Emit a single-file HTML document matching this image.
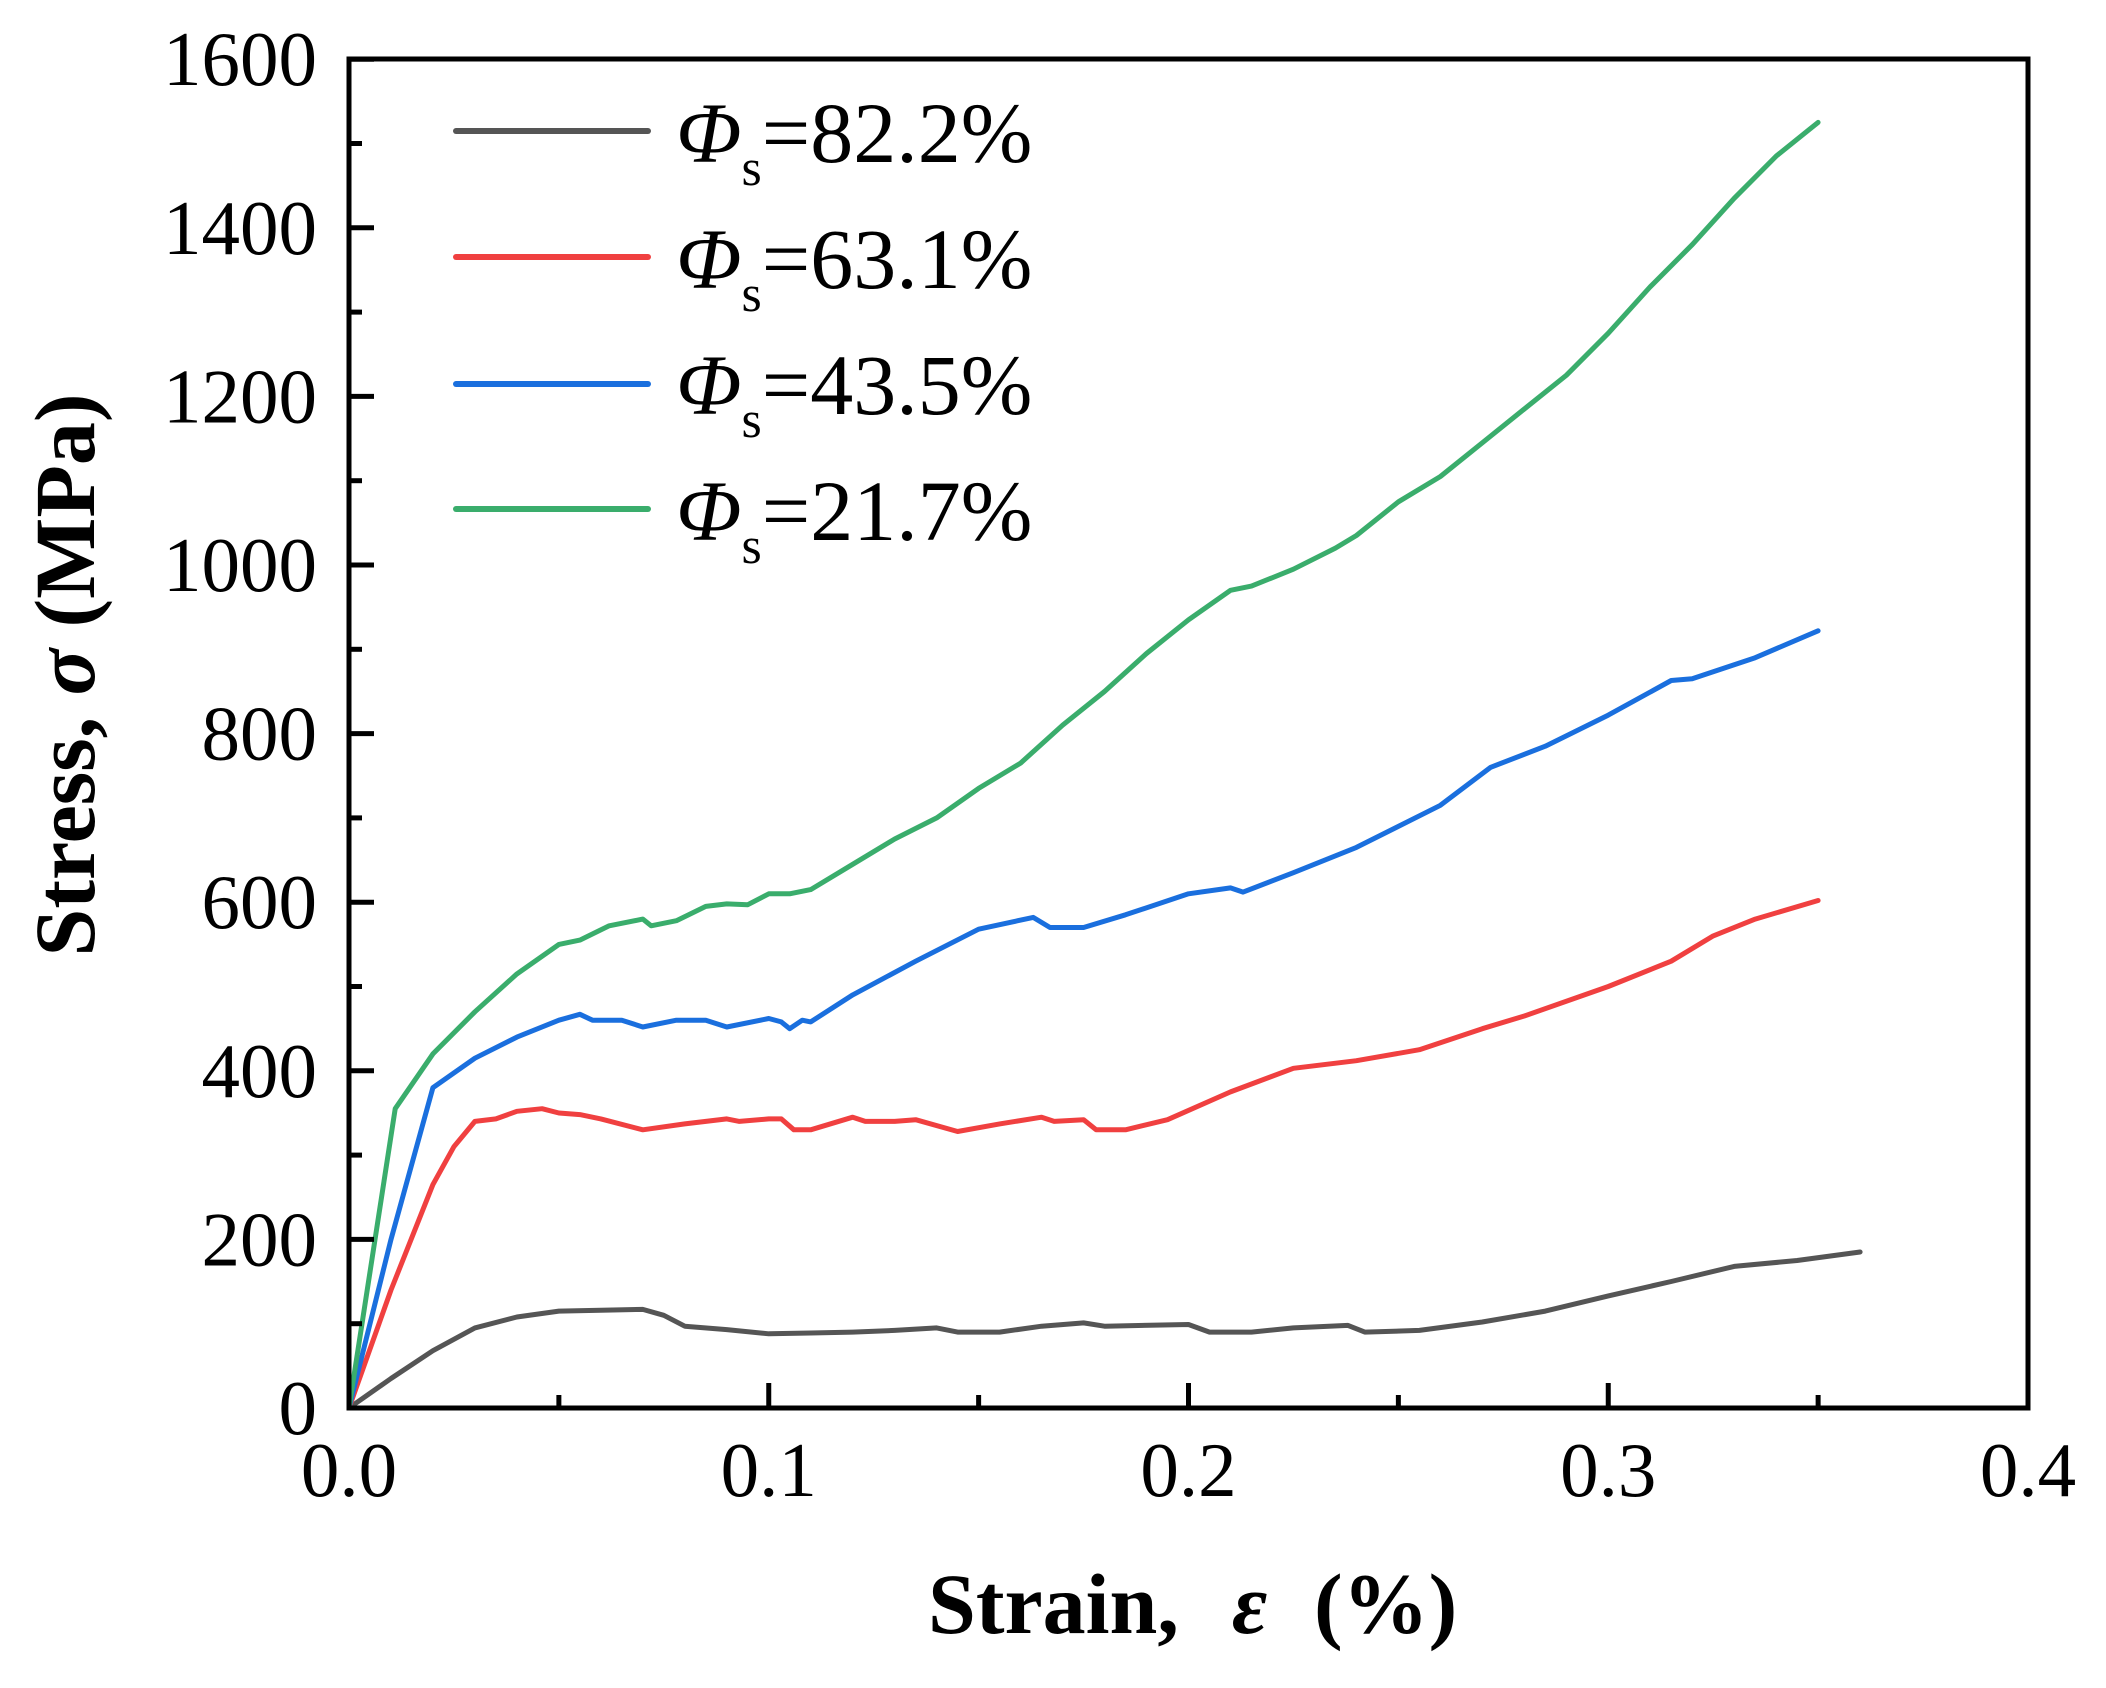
<!DOCTYPE html>
<html><head><meta charset="utf-8">
<style>html,body{margin:0;padding:0;background:#fff;}svg{display:block;}</style>
</head><body>
<svg id="s" width="2106" height="1688" xmlns="http://www.w3.org/2000/svg" font-family="Liberation Serif, serif">
<g id="curves" fill="none" stroke-width="5" stroke-linejoin="round" stroke-linecap="round"></g>
<g id="axes" stroke="#000" stroke-width="5"></g>
<g id="labels" font-size="77" fill="#000"></g>
<!-- legend -->
<g stroke-width="6" stroke-linecap="round">
<line x1="456" y1="131" x2="648" y2="131" stroke="#555555"/>
<line x1="456" y1="257" x2="648" y2="257" stroke="#f04040"/>
<line x1="456" y1="384" x2="648" y2="384" stroke="#1a6fde"/>
<line x1="456" y1="509" x2="648" y2="509" stroke="#3aad6c"/>
</g>
<g font-size="86" fill="#000">
<text x="676" y="162"><tspan font-style="italic">Φ</tspan><tspan font-size="52" dy="23">s</tspan><tspan dy="-23">=82.2%</tspan></text>
<text x="676" y="288"><tspan font-style="italic">Φ</tspan><tspan font-size="52" dy="23">s</tspan><tspan dy="-23">=63.1%</tspan></text>
<text x="676" y="414"><tspan font-style="italic">Φ</tspan><tspan font-size="52" dy="23">s</tspan><tspan dy="-23">=43.5%</tspan></text>
<text x="676" y="540"><tspan font-style="italic">Φ</tspan><tspan font-size="52" dy="23">s</tspan><tspan dy="-23">=21.7%</tspan></text>
</g>
<g font-size="86" font-weight="bold">
<text x="928" y="1633">Strain,</text>
<text x="1232" y="1633" font-style="italic">ε</text>
<text x="1314" y="1633">(%)</text>
</g>
<text transform="translate(94,675) rotate(-90)" font-size="86" font-weight="bold" text-anchor="middle">Stress, <tspan font-style="italic">σ</tspan> (MPa)</text>
</svg>
<script>
var X=function(e){return 349+e*4197.5;},Y=function(s){return 1408-s*0.843;};
var data={
"#555555":[[0,0],[0.01,35],[0.02,68],[0.03,95],[0.04,108],[0.05,115],[0.06,116],[0.07,117],[0.075,110],[0.08,97],[0.09,93],[0.1,88],[0.11,89],[0.12,90],[0.13,92],[0.14,95],[0.145,90],[0.155,90],[0.165,97],[0.175,101],[0.18,97],[0.2,99],[0.205,90],[0.215,90],[0.225,95],[0.238,98],[0.242,90],[0.255,92],[0.27,102],[0.285,115],[0.3,133],[0.315,150],[0.33,168],[0.345,175],[0.36,185]],
"#f04040":[[0,0],[0.01,140],[0.02,265],[0.025,310],[0.03,340],[0.035,343],[0.04,352],[0.046,355],[0.05,350],[0.055,348],[0.06,343],[0.07,330],[0.08,337],[0.09,343],[0.093,340],[0.1,343],[0.103,343],[0.106,330],[0.11,330],[0.12,345],[0.123,340],[0.13,340],[0.135,342],[0.145,328],[0.155,337],[0.165,345],[0.168,340],[0.175,342],[0.178,330],[0.185,330],[0.195,342],[0.21,375],[0.225,403],[0.24,412],[0.255,425],[0.27,450],[0.28,465],[0.3,500],[0.315,530],[0.325,560],[0.335,580],[0.35,602]],
"#1a6fde":[[0,0],[0.01,200],[0.02,380],[0.03,415],[0.04,440],[0.05,460],[0.055,467],[0.058,460],[0.065,460],[0.07,452],[0.078,460],[0.085,460],[0.09,452],[0.1,462],[0.103,458],[0.105,450],[0.108,460],[0.11,458],[0.12,490],[0.135,530],[0.15,568],[0.163,582],[0.167,570],[0.175,570],[0.185,585],[0.2,610],[0.21,617],[0.213,612],[0.225,635],[0.24,665],[0.26,715],[0.272,760],[0.285,785],[0.3,822],[0.315,863],[0.32,865],[0.335,890],[0.35,922]],
"#3aad6c":[[0,0],[0.011,355],[0.02,420],[0.03,470],[0.04,515],[0.05,550],[0.055,555],[0.062,572],[0.07,580],[0.072,572],[0.078,578],[0.085,595],[0.09,598],[0.095,597],[0.1,610],[0.105,610],[0.11,615],[0.12,645],[0.13,675],[0.14,700],[0.15,735],[0.16,765],[0.17,810],[0.18,850],[0.19,895],[0.2,935],[0.21,970],[0.215,975],[0.225,995],[0.235,1020],[0.24,1035],[0.25,1075],[0.26,1105],[0.27,1145],[0.28,1185],[0.29,1225],[0.3,1275],[0.31,1330],[0.32,1380],[0.33,1435],[0.34,1485],[0.35,1525]]};
var NS="http://www.w3.org/2000/svg",c=document.getElementById("curves");
for(var k in data){var p=document.createElementNS(NS,"path");p.setAttribute("d","M"+data[k].map(function(q){return X(q[0]).toFixed(1)+","+Y(q[1]).toFixed(1);}).join(" L"));p.setAttribute("stroke",k);c.appendChild(p);}
var a=document.getElementById("axes"),h="";
h+='<rect x="349" y="59" width="1679" height="1349" fill="none"/>';
for(var i=0;i<=8;i++){var x=X(i*0.05);h+='<line x1="'+x+'" y1="1408" x2="'+x+'" y2="'+(1408-(i%2?13:25))+'"/>';}
for(var j=0;j<=16;j++){var y=Y(j*100);h+='<line x1="349" y1="'+y+'" x2="'+(349+(j%2?13:25))+'" y2="'+y+'"/>';}
a.innerHTML=h;
var l=document.getElementById("labels"),t="";
for(var j=0;j<=8;j++){t+='<text x="317" y="'+(Y(j*200)+26)+'" text-anchor="end">'+(j*200)+'</text>';}
for(var i=0;i<=4;i++){t+='<text x="'+X(i*0.1)+'" y="1496" text-anchor="middle">'+(i*0.1).toFixed(1)+'</text>';}
l.innerHTML=t;
</script>
</body></html>
